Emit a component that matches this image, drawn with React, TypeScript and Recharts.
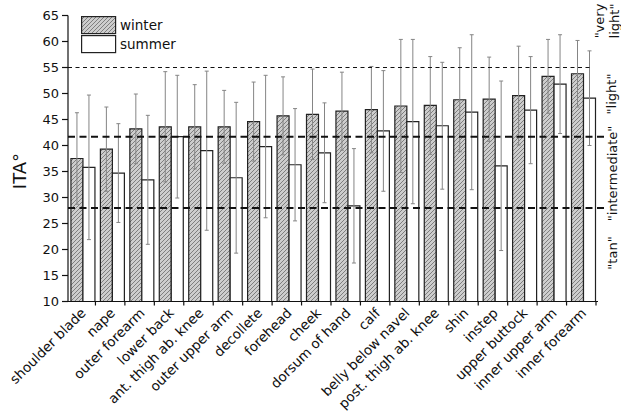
import { BarChart, Bar, XAxis, YAxis, ErrorBar, ReferenceLine, Legend } from 'recharts'

const parts = [
  'shoulder blade', 'nape', 'outer forearm', 'lower back', 'ant. thigh ab. knee',
  'outer upper arm', 'decollete', 'forehead', 'cheek', 'dorsum of hand', 'calf',
  'belly below navel', 'post. thigh ab. knee', 'shin', 'instep', 'upper buttock',
  'inner upper arm', 'inner forearm',
]
const winter = [37.5, 39.3, 43.2, 43.6, 43.6, 43.6, 44.6, 45.7, 46.0, 46.6, 46.9, 47.6, 47.7, 48.8, 48.9, 49.6, 53.3, 53.8]
const winterSd = [8.8, 8.1, 6.7, 10.6, 8.1, 7.0, 7.6, 7.5, 8.7, 7.5, 8.3, 12.8, 9.4, 10.0, 8.1, 9.5, 7.1, 6.4]
const summer = [35.8, 34.7, 33.4, 41.7, 39.0, 33.8, 39.8, 36.3, 38.6, 28.4, 42.8, 44.6, 43.8, 46.4, 36.1, 46.8, 51.8, 49.1]
const summerSd = [13.9, 9.5, 12.4, 11.8, 15.3, 14.5, 13.7, 10.8, 9.6, 11.0, 11.6, 15.8, 12.2, 14.9, 16.3, 10.3, 9.5, 9.1]

const yTicks = [10, 15, 20, 25, 30, 35, 40, 45, 50, 55, 60, 65]
// ITA skin type thresholds
const veryLightMin = 55
const lightMin = 41.7
const intermediateMin = 28

const FONT = '"DejaVu Sans", sans-serif'
const INK = '#111'

const data = parts.map((part, i) => ({
  part,
  winter: winter[i],
  winterSd: winterSd[i],
  summer: summer[i],
  summerSd: summerSd[i],
}))

// category label rotated 45deg, with the tick mark drawn between categories
function PartTick(props: any) {
  const { x, y, payload } = props
  const half = payload.offset ?? 14.7
  const ax = x + 0.5
  const ay = y + 9
  return (
    <g>
      <line x1={x + half - 2} y1={y} x2={x + half - 2} y2={y + 4} stroke={INK} strokeWidth={1.2} />
      <text
        x={ax} y={ay} dy="0.35em" textAnchor="end"
        transform={`rotate(-45 ${ax} ${ay})`}
        fontSize={13.5} fontFamily={FONT} fill={INK}
      >
        {payload.value}
      </text>
    </g>
  )
}

const dashed = (ext: number) => (p: any) => (
  <line
    x1={p.x1} y1={p.y1} x2={p.x2 + ext} y2={p.y2}
    stroke={p.stroke} strokeWidth={p.strokeWidth} strokeDasharray={p.strokeDasharray}
  />
)

function SeasonLegend() {
  return (
    <svg width={110} height={40} style={{ display: 'block' }}>
      <rect x={0.6} y={0.6} width={34} height={17} fill="url(#hatch)" stroke="#222" strokeWidth={1.2} />
      <text x={39} y={14} fontSize={13.5} fontFamily={FONT} fill={INK}>winter</text>
      <rect x={0.6} y={19.6} width={34} height={17} fill="#fff" stroke="#222" strokeWidth={1.2} />
      <text x={39} y={33} fontSize={13.5} fontFamily={FONT} fill={INK}>summer</text>
    </svg>
  )
}

export default function App() {
  return (
    <div style={{ position: 'absolute', left: 0, top: 0, width: 621, height: 414, background: '#fff' }}>
      <BarChart
        width={621}
        height={414}
        data={data}
        margin={{ top: 15.5, right: 23, bottom: 0, left: 0 }}
        barCategoryGap="10%"
        barGap={0}
      >
        <defs>
          <pattern id="hatch" patternUnits="userSpaceOnUse" width={4} height={4}>
            <rect width={4} height={4} fill="#cdcdcd" />
            <path d="M-1,1 l2,-2 M0,4 l4,-4 M3,5 l2,-2" stroke="#6a6a6a" strokeWidth={0.8} />
          </pattern>
        </defs>
        <XAxis
          dataKey="part"
          interval={0}
          height={112.5}
          tickLine={false}
          tickSize={0}
          tickMargin={0}
          axisLine={{ stroke: INK, strokeWidth: 1.2 }}
          tick={<PartTick />}
        />
        <YAxis
          type="number"
          domain={[10, 65]}
          ticks={yTicks}
          width={68}
          tickSize={6}
          tickMargin={3}
          axisLine={{ stroke: INK, strokeWidth: 1.2 }}
          tickLine={{ stroke: INK, strokeWidth: 1.2 }}
          tick={{ fontSize: 13, fontFamily: FONT, fill: INK }}
        />
        <Legend
          layout="horizontal"
          verticalAlign="middle"
          align="center"
          content={() => <SeasonLegend />}
          wrapperStyle={{ left: 81, top: 16, width: 110, height: 40 }}
        />
        <Bar dataKey="winter" fill="url(#hatch)" stroke="#222" strokeWidth={1.2} isAnimationActive={false}>
          <ErrorBar dataKey="winterSd" width={2} stroke="#858585" strokeWidth={1} />
        </Bar>
        <Bar dataKey="summer" fill="#fff" stroke="#222" strokeWidth={1.2} isAnimationActive={false}>
          <ErrorBar dataKey="summerSd" width={2} stroke="#858585" strokeWidth={1} />
        </Bar>
        <ReferenceLine y={veryLightMin} stroke={INK} strokeWidth={1.2} strokeDasharray="4 3.5" shape={dashed(-5)} />
        <ReferenceLine y={lightMin} stroke={INK} strokeWidth={2} strokeDasharray="7 4.5" shape={dashed(7)} />
        <ReferenceLine y={intermediateMin} stroke={INK} strokeWidth={2} strokeDasharray="7 4.5" shape={dashed(7)} />
      </BarChart>
      <svg
        width={621}
        height={414}
        style={{ position: 'absolute', left: 0, top: 0, pointerEvents: 'none' }}
        fontFamily={FONT}
        fill={INK}
      >
        <text x={20} y={171} dy="0.35em" textAnchor="middle" fontSize={18} transform="rotate(-90 20 171)">ITA°</text>
        <text x={604} y={21} textAnchor="middle" fontSize={13} transform="rotate(-90 604 21)">"very</text>
        <text x={619} y={21} textAnchor="middle" fontSize={13} transform="rotate(-90 619 21)">light"</text>
        <text x={616} y={94} textAnchor="middle" fontSize={13} transform="rotate(-90 616 94)">"light"</text>
        <text x={617} y={173.5} textAnchor="middle" fontSize={13} transform="rotate(-90 617 173.5)">"intermediate"</text>
        <text x={617} y={253} textAnchor="middle" fontSize={13} transform="rotate(-90 617 253)">"tan"</text>
      </svg>
    </div>
  )
}
